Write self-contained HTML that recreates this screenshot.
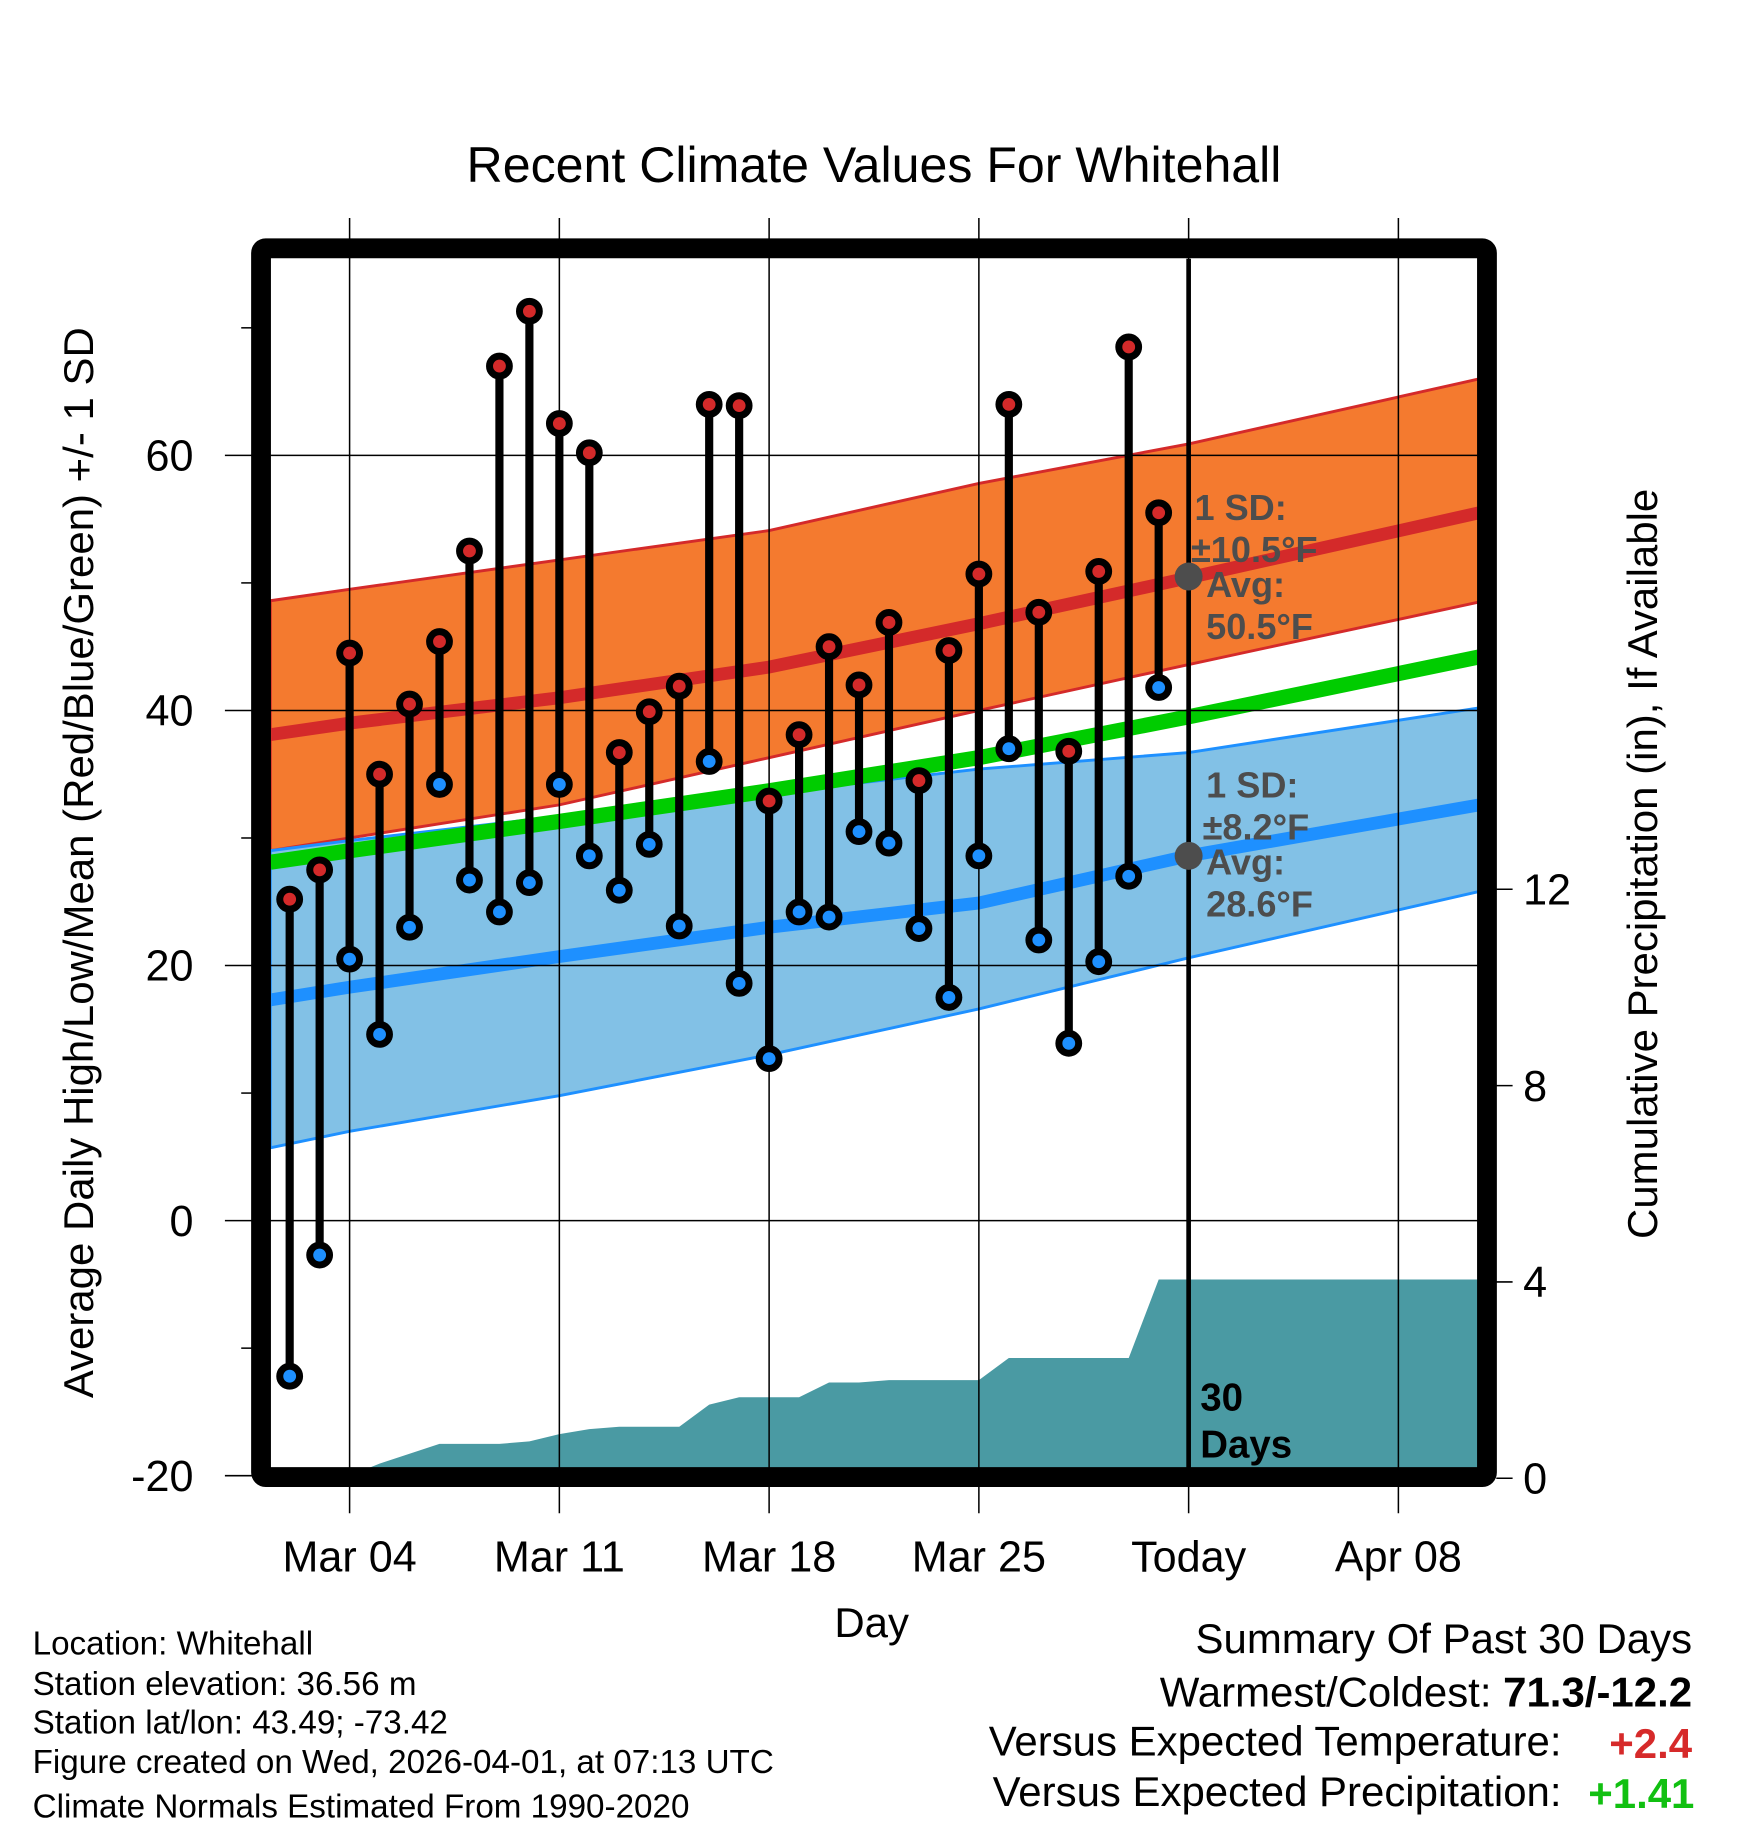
<!DOCTYPE html>
<html><head><meta charset="utf-8"><style>
html,body{margin:0;padding:0;background:#fff;}
svg{display:block;font-family:"Liberation Sans",sans-serif;}
</style></head><body>
<svg id="chart" width="1748" height="1828" viewBox="0 0 1500 1568" preserveAspectRatio="none" xmlns="http://www.w3.org/2000/svg">
<defs><clipPath id="pc"><rect x="232" y="222" width="1036" height="1037"/></clipPath></defs>
<text x="750" y="156" font-size="43" text-anchor="middle">Recent Climate Values For Whitehall</text>
<g id="plot"></g>
<text transform="translate(80,740) rotate(-90)" font-size="36" text-anchor="middle">Average Daily High/Low/Mean (Red/Blue/Green) +/- 1 SD</text>
<text transform="translate(1422,741) rotate(-90)" font-size="36" text-anchor="middle">Cumulative Precipitation (in), If Available</text>
<text x="748" y="1404" font-size="36" text-anchor="middle">Day</text>
<g font-size="28.5">
<text x="28" y="1419">Location: Whitehall</text>
<text x="28" y="1454">Station elevation: 36.56 m</text>
<text x="28" y="1487">Station lat/lon: 43.49; -73.42</text>
<text x="28" y="1521">Figure created on Wed, 2026-04-01, at 07:13 UTC</text>
<text x="28" y="1559">Climate Normals Estimated From 1990-2020</text>
</g>
<g font-size="36" text-anchor="end">
<text x="1452" y="1418">Summary Of Past 30 Days</text>
<text x="1452" y="1464">Warmest/Coldest: <tspan font-weight="bold">71.3/-12.2</tspan></text>
<text x="1340" y="1506">Versus Expected Temperature:</text>
<text x="1452" y="1508" fill="#d62a2a" font-weight="bold">+2.4</text>
<text x="1340" y="1549">Versus Expected Precipitation:</text>
<text x="1454" y="1551" fill="#11c011" font-weight="bold">+1.41</text>
</g>
</svg>
<script>
// day numbers: Mar 1 = 1
const obsDays = [2,3,4,5,6,7,8,9,10,11,12,13,14,15,16,17,18,19,20,21,22,23,24,25,26,27,28,29,30,31];
const highs = [25.2,27.5,44.5,35,40.5,45.4,52.5,67,71.3,62.5,60.2,36.7,39.9,41.9,64,63.9,32.9,38.1,45,42,46.9,34.5,44.7,50.7,64,47.7,36.8,50.9,68.5,55.5];
const lows = [-12.2,-2.7,20.5,14.6,23,34.2,26.7,24.2,26.5,34.2,28.6,25.9,29.5,23.1,36,18.6,12.7,24.2,23.8,30.5,29.6,22.9,17.5,28.6,37,22,13.9,20.3,27,41.8];
const precip = [0.02,0.02,0.05,0.3,0.5,0.7,0.7,0.7,0.75,0.9,1.0,1.05,1.05,1.05,1.5,1.65,1.65,1.65,1.95,1.95,2.0,2.0,2.0,2.0,2.45,2.45,2.45,2.45,2.45,4.05];
const normDays = [1.35,4,11,18,25,32,41.7];
const hiUpper = [48.6,49.5,51.8,54.1,57.8,60.9,66];
const hiMean = [38.1,39,41,43.4,46.8,50.4,55.5];
const hiLower = [29,30,32.6,36.3,40,43.6,48.5];
const meanLine = [28.1,29,31.3,33.7,36.3,39.5,44.2];
const loUpper = [29,29.8,31.7,33.5,35.4,36.7,40.2];
const loMean = [17.3,18.3,20.7,23,24.9,28.6,32.6];
const loLower = [5.7,7,9.8,13,16.6,20.6,25.8];
const xTickDays = [4,11,18,25,32,39];
const xTickLabels = ["Mar 04","Mar 11","Mar 18","Mar 25","Today","Apr 08"];
const yTicks = [60,40,20,0,-20];
const yMinor = [70,50,30,10,-10];
const pTicks = [0,4,8,12];

const L=232,R=1268,T=222,B=1259;
const X=d=>300+(d-4)*25.714;
const Y=v=>1047-v*10.94;
const P=v=>1268-v*42.1;
const NS="http://www.w3.org/2000/svg";
const g=document.getElementById('plot');
function mk(tag,attrs,parent){const e=document.createElementNS(NS,tag);for(const k in attrs)e.setAttribute(k,attrs[k]);(parent||g).appendChild(e);return e;}
function line(xs,ys){return xs.map((d,i)=>(i?'L':'M')+X(d).toFixed(1)+','+Y(ys[i]).toFixed(1)).join('');}
function band(xs,up,lo){let s=line(xs,up);for(let i=xs.length-1;i>=0;i--)s+='L'+X(xs[i]).toFixed(1)+','+Y(lo[i]).toFixed(1);return s+'Z';}

const cg=mk('g',{'clip-path':'url(#pc)'});


let e;
// precip area
let pd='M'+L+','+B+'L'+L+','+P(precip[0]);
obsDays.forEach((d,i)=>{pd+='L'+X(d).toFixed(1)+','+P(precip[i]).toFixed(1);});
pd+='L'+R+','+P(precip[precip.length-1]).toFixed(1)+'L'+R+','+B+'Z';
e=mk('path',{d:pd,fill:'#4a9aa3'},cg);



e=mk('path',{d:band(normDays,hiUpper,hiLower),fill:'#f47a2f',stroke:'#d42a2a','stroke-width':2.5},cg);


e=mk('path',{d:band(normDays,loUpper,loLower),fill:'#82c1e6',stroke:'#1e90ff','stroke-width':2.5},cg);


e=mk('path',{d:line(normDays,hiMean),fill:'none',stroke:'#d42a2a','stroke-width':11},cg);


e=mk('path',{d:line(normDays,meanLine),fill:'none',stroke:'#00cc00','stroke-width':13},cg);


e=mk('path',{d:line(normDays,loMean),fill:'none',stroke:'#1e90ff','stroke-width':11},cg);



xTickDays.forEach((d,i)=>{
  e=mk('line',{x1:X(d),x2:X(d),y1:187,y2:1298,stroke:'#000','stroke-width':1.3});
  
  
  e=mk('text',{x:X(d),y:1348,'font-size':37,'text-anchor':'middle'});
  e.textContent=xTickLabels[i];
  
  
});
yTicks.forEach(v=>{
  e=mk('line',{x1:193,x2:R,y1:Y(v),y2:Y(v),stroke:'#000','stroke-width':1.3});
  
  
  e=mk('text',{x:166,y:Y(v)+13,'font-size':37,'text-anchor':'end'});
  e.textContent=v;
  
  
});
yMinor.forEach(v=>{
  e=mk('line',{x1:207,x2:216,y1:Y(v),y2:Y(v),stroke:'#000','stroke-width':1.3});
  
  
});
pTicks.forEach(v=>{
  e=mk('line',{x1:1284,x2:1298,y1:P(v),y2:P(v),stroke:'#000','stroke-width':1.3});
  
  
  e=mk('text',{x:1307,y:P(v)+13,'font-size':37});
  e.textContent=v;
  
  
});

e=mk('line',{x1:X(32),x2:X(32),y1:T,y2:B,stroke:'#000','stroke-width':4});



obsDays.forEach((d,i)=>{
  const x=X(d);
  e=mk('line',{x1:x,x2:x,y1:Y(highs[i]),y2:Y(lows[i]),stroke:'#000','stroke-width':7});
  
  
  e=mk('circle',{cx:x,cy:Y(highs[i]),r:8.5,fill:'#d42a2a',stroke:'#000','stroke-width':6});
  
  
  e=mk('circle',{cx:x,cy:Y(lows[i]),r:8.5,fill:'#1e90ff',stroke:'#000','stroke-width':6});
  
  
});

e=mk('circle',{cx:X(32),cy:Y(50.5),r:12,fill:'#4d4d4d'});


e=mk('circle',{cx:X(32),cy:Y(28.6),r:12,fill:'#4d4d4d'});


const ann=[["1 SD:",1025,446],["±10.5°F",1022,482],["Avg:",1035,512],["50.5°F",1035,548],["1 SD:",1035,684],["±8.2°F",1032,720],["Avg:",1035,750],["28.6°F",1035,786]];
ann.forEach(a=>{
  e=mk('text',{x:a[1],y:a[2],'font-size':31,'font-weight':'bold',fill:'#4d4d4d'});
  e.textContent=a[0];
  
  
});
e=mk('text',{x:1030,y:1210,'font-size':33,'font-weight':'bold'});
e.textContent='30';


e=mk('text',{x:1030,y:1250,'font-size':33,'font-weight':'bold'});
e.textContent='Days';



e=mk('rect',{x:224,y:213,width:1052,height:1054,rx:4,fill:'none',stroke:'#000','stroke-width':17});


</script>
</body></html>
